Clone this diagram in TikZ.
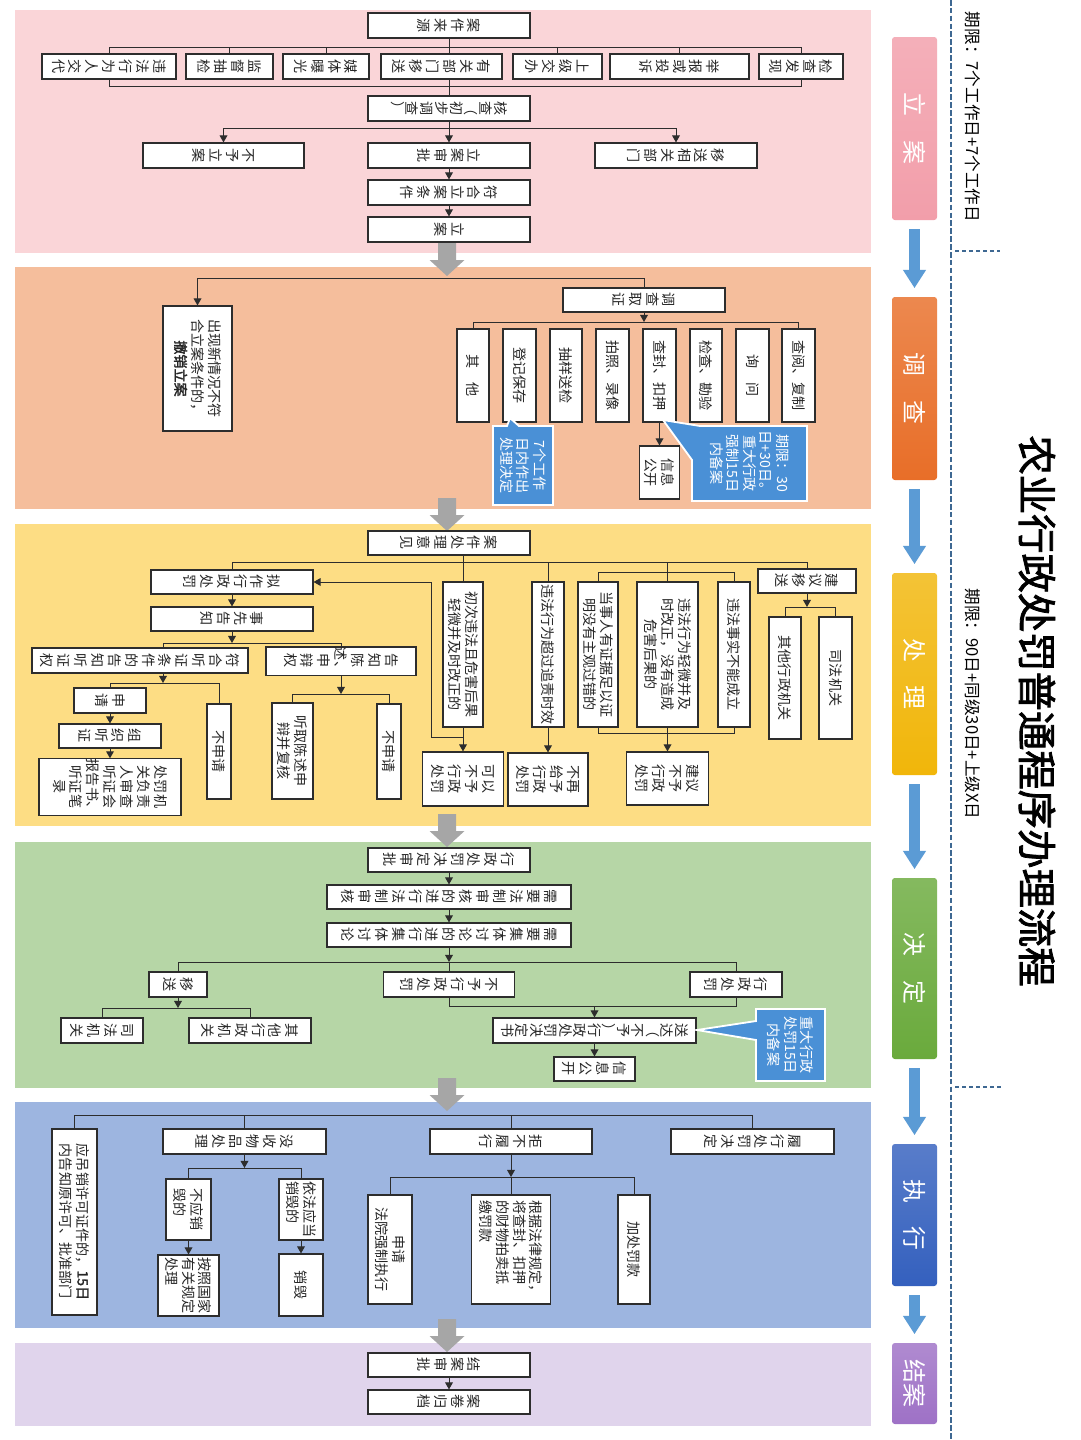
\documentclass[tikz,border=0pt]{standalone}
\usepackage{fontspec}
\setmainfont{Noto Sans CJK SC}[AutoFakeBold=2]
\usepackage{tikz}
\usetikzlibrary{arrows.meta}
\definecolor{BandLA}{RGB}{250,213,216}
\definecolor{BandDC}{RGB}{245,190,156}
\definecolor{BandCL}{RGB}{253,221,132}
\definecolor{BandJD}{RGB}{182,214,166}
\definecolor{BandZX}{RGB}{157,181,224}
\definecolor{BandJA}{RGB}{224,212,236}
\definecolor{ArrowGray}{RGB}{166,166,166}
\definecolor{LineDark}{RGB}{45,45,45}
\definecolor{NoteBlue}{RGB}{74,144,214}
\definecolor{StepBlue}{RGB}{91,155,213}
\definecolor{DashBlue}{RGB}{62,104,146}
\definecolor{StLA}{RGB}{242,158,170}
\definecolor{StDC}{RGB}{232,110,40}
\definecolor{StCL}{RGB}{241,182,10}
\definecolor{StJD}{RGB}{106,170,60}
\definecolor{StZX}{RGB}{52,96,190}
\definecolor{StJA}{RGB}{158,113,198}

\begin{document}
\begin{tikzpicture}[x=0.025cm, y=-0.025cm, >={Triangle[length=5pt,width=5.5pt]},
  bx/.style 2 args={draw=LineDark, line width=0.8pt, fill=white, rotate=-90, inner sep=0pt, align=center, text=black!85, font=\fontsize{10}{12}\selectfont, minimum height=#1*0.025cm, minimum width=#2*0.025cm},
  stg/.style 2 args={rotate=-90, rounded corners=2pt, top color=#1!82, bottom color=#1, text=white, inner sep=0pt, font=\fontsize{17}{20}\selectfont, minimum height=45*0.025cm, minimum width=#2*0.025cm},
  ln/.style={draw=LineDark, line width=0.7pt},
  arr/.style={ln, ->},
  note/.style={fill=NoteBlue, draw=white, line width=1.3pt, line join=miter},
  notetext/.style={rotate=-90, align=center, text=white, inner sep=0pt, font=\fontsize{10}{11.8}\selectfont},
  barr/.style={draw=StepBlue, line width=0.26cm, -{Triangle[length=0.45cm,width=0.58cm,line width=0pt]}, shorten <=0.22cm, shorten >=0.22cm},
  dline/.style={draw=DashBlue, line width=1.6pt, dash pattern=on 4pt off 1.6pt},
  dotl/.style={draw=DashBlue, line width=1.6pt, dash pattern=on 2.5pt off 2.5pt}]

\fill[white] (0,0) rectangle (1080,1440);
\useasboundingbox (0,0) rectangle (1080,1440);

\fill[BandLA] (15,10) rectangle (871,253);
\fill[BandDC] (15,267) rectangle (871,509);
\fill[BandCL] (15,524) rectangle (871,826);
\fill[BandJD] (15,842) rectangle (871,1088);
\fill[BandZX] (15,1102) rectangle (871,1328);
\fill[BandJA] (15,1343) rectangle (871,1426);

\foreach \y in {243,498,814,1078,1319}
  \fill[ArrowGray] (438,\y) -- ++(18,0) -- ++(0,17) -- ++(8.5,0) -- ++(-17.5,16) -- ++(-17.5,-16) -- ++(8.5,0) -- cycle;

\node[bx={162}{25}] (la0) at (449,25.5) {案\\件\\来\\源};
\node[bx={134}{25}] (s1) at (109,66.5) {违\\法\\行\\为\\人\\交\\代};
\node[bx={87}{25}] (s2) at (229.5,66.5) {监\\督\\抽\\检};
\node[bx={86}{25}] (s3) at (326,66.5) {媒\\体\\曝\\光};
\node[bx={121}{25}] (s4) at (441.5,66.5) {有\\关\\部\\门\\移\\送};
\node[bx={89}{25}] (s5) at (557.5,66.5) {上\\级\\交\\办};
\node[bx={139}{25}] (s6) at (679.5,66.5) {举\\报\\或\\投\\诉};
\node[bx={84}{25}] (s7) at (801,66.5) {检\\查\\发\\现};
\node[bx={162}{25}, font=\fontsize{10}{10.5}\selectfont] (la1) at (449,108.5) {核\\查\\（\\初\\步\\调\\查\\）};
\node[bx={161}{25}] (la2a) at (223.5,155.5) {不\\予\\立\\案};
\node[bx={162}{25}] (la2) at (449,155.5) {立\\案\\审\\批};
\node[bx={162}{25}] (la2b) at (676,155.5) {移\\送\\相\\关\\部\\门};
\node[bx={162}{25}] (la3) at (449,192.5) {符\\合\\立\\案\\条\\件};
\node[bx={162}{25}] (la4) at (449,229.5) {立\\案};

\coordinate (b1) at (449,47);
\coordinate (b2) at (449,86);
\draw[ln] (la0.east) -- (la0.east |- s4.west);
\draw[ln] (s1.west) -- (s1.west |- b1) -- (s7.west |- b1) -- (s7.west);
\foreach \n in {s2,s3,s5,s6} \draw[ln] (\n.west) -- (\n.west |- b1);
\draw[ln] (s1.east) -- (s1.east |- b2) -- (s7.east |- b2) -- (s7.east);
\draw[ln] (la1.west |- s4.east) -- (la1.west);
\coordinate (b3) at (449,128);
\draw[ln] (la1.east) -- (b3);
\draw[ln] (la2a.west |- b3) -- (la2b.west |- b3);
\foreach \n in {la2a,la2,la2b} \draw[arr] (\n.west |- b3) -- (\n.west);
\draw[arr] (la2.east) -- (la3.west);
\draw[arr] (la3.east) -- (la4.west);

\node[bx={162}{24}] (dc0) at (644,300) {调\\查\\取\\证};
\node[bx={69}{125}] (dc9) at (197.5,368.5) {出现新情况不符\\合立案条件的，\\\textbf{撤销立案}};
\node[bx={32}{93}] (dc1) at (473,375.5) {其\quad 他};
\node[bx={33}{93}] (dc2) at (519.5,375.5) {登记保存};
\node[bx={32}{93}] (dc3) at (566,375.5) {抽样送检};
\node[bx={33}{93}] (dc4) at (612.5,375.5) {拍照、录像};
\node[bx={33}{93}] (dc5) at (659.5,375.5) {查封、扣押};
\node[bx={32}{93}] (dc6) at (706,375.5) {检查、勘验};
\node[bx={33}{93}] (dc7) at (752.5,375.5) {询\quad 问};
\node[bx={33}{93}] (dc8) at (798.5,375.5) {查阅、复制};
\node[bx={40}{53}] (dc10) at (659.5,472.5) {信息\\公开};

\draw[arr] (dc0.west) -- ++(0,-9) -| (dc9.west);
\coordinate (b4) at (644,322);
\draw[arr] (dc0.east) -- (b4);
\draw[ln] (dc1.west) -- (dc1.west |- b4) -- (dc8.west |- b4) -- (dc8.west);
\draw[arr] (dc5.east) -- (dc10.west);

\filldraw[note] (663,420) -- (700,426) -- (807,426) -- (807,501) -- (692,501) -- (692,460) -- cycle;
\node[notetext] (n1) at (749.5,463.5) {期限：30\\日+30日。\\重大行政\\强制15日\\内备案};
\filldraw[note] (493,426) -- (507,426) -- (510,418) -- (519,426) -- (553,426) -- (553,505) -- (493,505) -- cycle;
\node[notetext] (n2) at (523,465.5) {7个工作\\日内作出\\处理决定};

\node[bx={162}{24}] (cl0) at (449,543) {案\\件\\处\\理\\意\\见};
\node[bx={162}{24}] (cl1) at (232,582) {拟\\作\\行\\政\\处\\罚};
\node[bx={162}{24}] (cl2) at (232,619) {事\\先\\告\\知};
\node[bx={216}{25}] (cl3) at (140,660.5) {符\\合\\听\\证\\条\\件\\的\\告\\知\\听\\证\\权};
\node[bx={150}{24}] (cl4) at (341,661) {告\\知\\陈\\述、\\申\\辩\\权};
\node[bx={72}{25}] (cl5) at (110,700.5) {申\\请};
\node[bx={24}{95}] (cl6) at (219,751.5) {不申请};
\node[bx={102}{24}] (cl7) at (110,736) {组\\织\\听\\证};
\node[bx={142}{56}] (cl8) at (110,787) {处罚机\\关负责\\人审查\\听证会\\报告书、\\听证笔\\录};
\node[bx={41}{96}] (cl9) at (292.5,751) {听取陈述申\\辩并复核};
\node[bx={24}{95}] (cl10) at (389,751.5) {不申请};
\node[bx={40}{145}] (cl11) at (463,654.5) {初次违法且危害后果\\轻微并及时改正的};
\node[bx={32}{145}] (cl12) at (548,654.5) {违法行为超过追责时效};
\node[bx={40}{145}] (cl13) at (598,654.5) {当事人有证据足以证\\明没有主观过错的};
\node[bx={61}{145}] (cl14) at (667.5,654.5) {违法行为轻微并及\\时改正，没有造成\\危害后果的};
\node[bx={32}{145}] (cl15) at (734,654.5) {违法事实不能成立};
\node[bx={81}{54}] (cl16) at (463,779) {可以\\不予\\行政\\处罚};
\node[bx={80}{53}] (cl17) at (548,779.5) {不再\\给予\\行政\\处罚};
\node[bx={82}{53}] (cl18) at (667.5,778.5) {建议\\不予\\行政\\处罚};
\node[bx={98}{24}] (cl19) at (807,581) {建\\议\\移\\送};
\node[bx={32}{122}] (cl20) at (785,678) {其他行政机关};
\node[bx={33}{122}] (cl21) at (835.5,678) {司法机关};

\draw[ln] (cl11.center |- cl0.east) -- (cl11.west);
\coordinate (b5) at (463,562);
\draw[ln] (cl1.west) -- (cl1.west |- b5) -- (cl19.west |- b5) -- (cl19.west);
\draw[ln] (cl12.west |- b5) -- (cl12.west);
\draw[ln] (cl14.west |- b5) -- (cl14.west);
\coordinate (b6) at (667.5,572);
\draw[ln] (cl13.west) -- (cl13.west |- b6) -- (cl15.west |- b6) -- (cl15.west);
\coordinate (b7) at (667.5,733);
\draw[ln] (cl13.east) -- (cl13.east |- b7) -- (cl15.east |- b7) -- (cl15.east);
\draw[arr] (cl11.east) -- (cl16.west);
\draw[arr] (cl12.east) -- (cl17.west);
\draw[arr] (cl14.east) -- (cl18.west);
\draw[arr] (cl11.east) ++(0,10) -- ++(-32,0) |- (cl1.north);
\draw[arr] (cl1.east) -- (cl2.west);
\coordinate (b8) at (232,643);
\draw[arr] (cl2.east) -- (b8);
\coordinate (c3t) at (163,648);
\coordinate (c3b) at (163,673);
\draw[ln] (c3t |- b8) -- (cl4.west |- b8) -- (cl4.west);
\draw[ln] (c3t |- b8) -- (c3t);
\coordinate (b9) at (163,683);
\draw[arr] (c3b) -- (b9);
\draw[ln] (cl5.west) -- (cl5.west |- b9) -- (cl6.west |- b9) -- (cl6.west);
\draw[arr] (cl5.east) -- (cl7.west);
\draw[arr] (cl7.east) -- (cl8.west);
\coordinate (b10) at (341,694);
\draw[arr] (cl4.east) -- (b10);
\draw[ln] (cl9.west) -- (cl9.west |- b10) -- (cl10.west |- b10) -- (cl10.west);
\coordinate (b11) at (807,607);
\draw[arr] (cl19.east) -- (b11);
\draw[ln] (cl20.west) -- (cl20.west |- b11) -- (cl21.west |- b11) -- (cl21.west);

\node[bx={162}{24}] (jd0) at (449,860) {行\\政\\处\\罚\\决\\定\\审\\批};
\node[bx={244}{24}] (jd1) at (449,897) {需\\要\\法\\制\\审\\核\\的\\进\\行\\法\\制\\审\\核};
\node[bx={244}{24}] (jd2) at (449,935) {需\\要\\集\\体\\讨\\论\\的\\进\\行\\集\\体\\讨\\论};
\node[bx={131}{25}] (jd3) at (449,984.5) {不\\予\\行\\政\\处\\罚};
\node[bx={92}{25}] (jd4) at (736,984.5) {行\\政\\处\\罚};
\node[bx={58}{25}] (jd5) at (178,984.5) {移\\送};
\node[bx={82}{25}] (jd6) at (102,1030.5) {司\\法\\机\\关};
\node[bx={122}{25}] (jd7) at (250,1030.5) {其\\他\\行\\政\\机\\关};
\node[bx={203}{25}, font=\fontsize{10}{10.3}\selectfont] (jd8) at (594.5,1030.5) {送\\达\\（\\不\\予\\）\\行\\政\\处\\罚\\决\\定\\书};
\node[bx={81}{24}] (jd9) at (594.5,1069) {信\\息\\公\\开};

\draw[arr] (jd0.east) -- (jd1.west);
\draw[arr] (jd1.east) -- (jd2.west);
\coordinate (b12) at (449,962);
\draw[arr] (jd2.east) -- (b12);
\draw[ln] (jd5.west) -- (jd5.west |- b12) -- (jd4.west |- b12) -- (jd4.west);
\draw[ln] (b12) -- (jd3.west);
\coordinate (b13) at (178,1008);
\draw[arr] (jd5.east) -- (b13);
\draw[ln] (jd6.west) -- (jd6.west |- b13) -- (jd7.west |- b13) -- (jd7.west);
\coordinate (b14) at (594.5,1006);
\draw[ln] (jd3.east) -- (jd3.east |- b14) -- (jd4.east |- b14) -- (jd4.east);
\draw[arr] (b14) -- (jd8.west);
\draw[arr] (jd8.east) -- (jd9.west);

\filldraw[note] (756,1009) -- (825,1009) -- (825,1081) -- (756,1081) -- (756,1040) -- (697,1030) -- (756,1021) -- cycle;
\node[notetext] (n3) at (790.5,1045) {重大行政\\处罚15日\\内备案};

\node[bx={45}{186}, align=left] (zx0) at (74.5,1222) {应吊销许可证件的，\textbf{15日}\\内告知原许可、批准部门};
\node[bx={163}{25}] (zx1) at (244.5,1141.5) {没\\收\\物\\品\\处\\理};
\node[bx={162}{25}] (zx2) at (511,1141.5) {拒\\不\\履\\行};
\node[bx={163}{25}] (zx3) at (752.5,1141.5) {履\\行\\处\\罚\\决\\定};
\node[bx={45}{61}, align=left] (zx4) at (188.5,1209.5) {不应销\\毁的};
\node[bx={44}{61}, align=left] (zx5) at (301,1209.5) {依法应当\\销毁的};
\node[bx={61}{61}, align=left] (zx6) at (188.5,1285.5) {按照国家\\有关规定\\处理};
\node[bx={44}{62}] (zx7) at (301,1285) {销毁};
\node[bx={44}{109}] (zx8) at (390,1249.5) {申请\\法院强制执行};
\node[bx={79}{109}, align=left] (zx9) at (511,1249.5) {根据法律规定，\\将查封、扣押\\的财物拍卖抵\\缴罚款};
\node[bx={32}{109}] (zx10) at (634,1249.5) {加处罚款};

\coordinate (b15) at (449,1115);
\draw[ln] (zx0.west) -- (zx0.west |- b15) -- (zx3.west |- b15) -- (zx3.west);
\foreach \n in {zx1,zx2} \draw[ln] (\n.west |- b15) -- (\n.west);
\coordinate (b16) at (244.5,1168);
\draw[arr] (zx1.east) -- (b16);
\draw[ln] (zx4.west) -- (zx4.west |- b16) -- (zx5.west |- b16) -- (zx5.west);
\draw[arr] (zx4.east) -- (zx6.west);
\draw[arr] (zx5.east) -- (zx7.west);
\coordinate (b17) at (511,1177);
\draw[arr] (zx2.east) -- (b17);
\draw[ln] (zx8.west) -- (zx8.west |- b17) -- (zx10.west |- b17) -- (zx10.west);
\draw[ln] (b17) -- (zx9.west);

\node[bx={162}{24}] (ja0) at (449,1365) {结\\案\\审\\批};
\node[bx={162}{24}] (ja1) at (449,1402) {案\\卷\\归\\档};
\draw[arr] (ja0.east) -- (ja1.west);

\node[stg={StLA}{183}] (st1) at (914.5,128.5) {立　案};
\node[stg={StDC}{183}] (st2) at (914.5,388.5) {调　查};
\node[stg={StCL}{202}] (st3) at (914.5,674) {处　理};
\node[stg={StJD}{181}] (st4) at (914.5,968.5) {决　定};
\node[stg={StZX}{142}] (st5) at (914.5,1215) {执　行};
\node[stg={StJA}{81}] (st6) at (914.5,1383.5) {结案};
\foreach \a/\b in {st1/st2,st2/st3,st3/st4,st4/st5,st5/st6}
  \draw[barr] (\a.east) -- (\b.west);

\draw[dline] (951,0) -- (951,1440);
\draw[dotl] (955,251) -- (1000,251);
\draw[dotl] (955,1087) -- (1003,1087);

\node[rotate=-90, font=\fontsize{11.8}{14}\selectfont] (lim1) at (973,117) {期限：7个工作日+7个工作日};
\node[rotate=-90, font=\fontsize{11.8}{14}\selectfont] (lim2) at (973,704) {期限：90日+同级30日+上级X日};
\node[rotate=-90, font=\bfseries\fontsize{28}{30}\selectfont] (title) at (1037,711) {农业行政处罚普通程序办理流程};
\end{tikzpicture}
\end{document}
